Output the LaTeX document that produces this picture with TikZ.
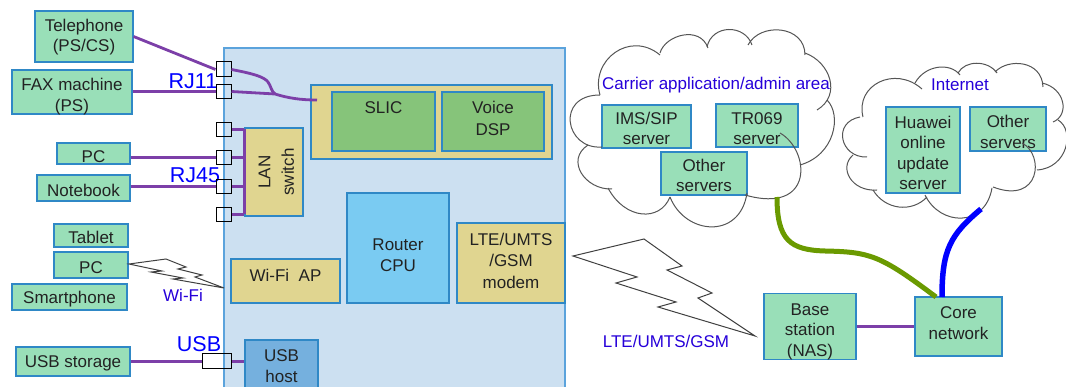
\documentclass[tikz,border=0pt]{standalone}
\usepackage{fontspec}
\setmainfont{Liberation Sans}
\usetikzlibrary{positioning}
\definecolor{devgreen}{HTML}{99DFB8}
\definecolor{devedge}{HTML}{2F88C6}
\definecolor{panelblue}{HTML}{CCE0F1}
\definecolor{paneledge}{HTML}{5BA3DC}
\definecolor{tanbox}{HTML}{E0D590}
\definecolor{slicgreen}{HTML}{86C47A}
\definecolor{cpublue}{HTML}{7ACBF2}
\definecolor{hostblue}{HTML}{75B0DE}
\definecolor{linkpurple}{HTML}{7C3FA8}
\definecolor{linkgreen}{HTML}{6A9A00}
\definecolor{inktext}{HTML}{222222}
\definecolor{cloudline}{HTML}{555555}
\tikzstyle{basebox} = [draw=devedge,line width=1.1pt,inner sep=0pt,align=center,text=inktext,font=\fontsize{17}{20.5}\selectfont]
\tikzstyle{devbox} = [basebox,fill=devgreen]
\tikzstyle{tanned} = [basebox,fill=tanbox]
\tikzstyle{portbox} = [draw=black,line width=1pt,inner sep=0pt]
\tikzstyle{link} = [linkpurple,line width=2.8pt]
\tikzstyle{bigtag} = [blue,inner sep=0pt,font=\fontsize{21.5}{24}\selectfont]
\tikzstyle{smalltag} = [blue!85!red,inner sep=0pt,font=\fontsize{17}{20}\selectfont]
\tikzstyle{cloudarc} = [cloudline,line width=1pt]
\tikzstyle{bolt} = [black!75,line width=1pt,line join=miter]
\begin{document}
\begin{tikzpicture}[x=1pt,y=-1pt]
\clip (0,0) rectangle (1066,387);
\node[basebox,fill=panelblue,draw=paneledge,minimum width=341pt,minimum height=352pt] (router) at (394.5,224) {};
\node[devbox,minimum width=98pt,minimum height=51pt,text depth=2.25pt] (telephone) at (84,36.5) {Telephone\\(PS/CS)};
\node[devbox,minimum width=120pt,minimum height=44pt,text depth=0pt,text height=38.8pt] (fax) at (72,92) {FAX machine\\(PS)};
\node[devbox,minimum width=73pt,minimum height=21pt,text height=18.3pt] (pc) at (93.5,153.5) {PC};
\node[devbox,minimum width=93pt,minimum height=26pt,text height=16.3pt] (notebook) at (83.5,188) {Notebook};
\node[devbox,minimum width=74pt,minimum height=23pt,text height=16.3pt] (tablet) at (91,235.5) {Tablet};
\node[devbox,minimum width=74pt,minimum height=26pt,text height=16.3pt] (pcwifi) at (91,265) {PC};
\node[devbox,minimum width=115pt,minimum height=26pt,text depth=0pt] (smartphone) at (69.5,297) {Smartphone};
\node[devbox,minimum width=114pt,minimum height=29pt,text depth=0pt] (usbdisk) at (73,361.5) {USB storage};
\node[tanned,minimum width=241pt,minimum height=74pt] (voice) at (431.5,122) {};
\node[basebox,fill=slicgreen,minimum width=103pt,minimum height=59pt,text depth=27pt] (slic) at (383.5,121.5) {SLIC};
\node[basebox,fill=slicgreen,minimum width=102pt,minimum height=59pt,text depth=6pt] (dsp) at (493,121.5) {Voice\\[1pt]DSP};
\node[tanned,rotate=90,minimum width=88pt,minimum height=58pt,text height=39.8pt] (lan) at (274,172) {LAN\\[3pt]switch};
\node[basebox,fill=cpublue,minimum width=102pt,minimum height=110pt,text height=46.8pt] (cpu) at (398,248) {Router\\CPU};
\node[tanned,minimum width=109pt,minimum height=44pt,text depth=12pt] (wifiap) at (285.5,281) {Wi-Fi\ \ AP};
\node[tanned,minimum width=108pt,minimum height=80pt,text depth=5pt] (modem) at (511,263) {LTE/UMTS\\[1pt]/GSM\\[1pt]modem};
\node[basebox,fill=hostblue,minimum width=73pt,minimum height=52pt] (usbhost) at (281.5,366) {USB\\host};
\node[bigtag] (tagrjone) at (193,81) {RJ11};
\node[bigtag] (tagrjfour) at (195,175) {RJ45};
\node[bigtag] (tagusb) at (199,344) {USB};
\node[smalltag] (tagwifi) at (183,295) {Wi-Fi};
\node[smalltag] (taglte) at (666,341) {LTE/UMTS/GSM};
\node[portbox,minimum width=15pt,minimum height=15pt] (portA) at (223.5,69.5) {};
\node[portbox,minimum width=15pt,minimum height=14pt] (portB) at (223.5,91.5) {};
\node[portbox,minimum width=15pt,minimum height=14pt] (portC) at (223.5,129.5) {};
\node[portbox,minimum width=15pt,minimum height=14pt] (portD) at (223.5,157.5) {};
\node[portbox,minimum width=15pt,minimum height=14pt] (portE) at (223.5,186.5) {};
\node[portbox,minimum width=15pt,minimum height=14pt] (portF) at (223.5,214.5) {};
\node[portbox,minimum width=29pt,minimum height=15pt] (portusb) at (217,361.5) {};
\coordinate (voicein) at (317,100);
\coordinate (joinvoice) at (275,94);
\draw[link] (telephone.east) -- (portA.west);
\draw[link] (portB.west -| fax.east) -- (portB.west);
\draw[link] (portD.west -| pc.east) -- (portD.west);
\draw[link] (portE.west -| notebook.east) -- (portE.west);
\draw[link] (portusb.west -| usbdisk.east) -- (portusb.west);
\draw[link] (portusb.east) -- (usbhost.west |- portusb.east);
\draw[link] (portA.east) .. controls (255,74) and (264,77) .. (268,82) .. controls (271,86) and (271,91) .. (joinvoice);
\draw[link] (portB.east) -- (joinvoice) .. controls (288,98) and (300,100) .. (voicein);
\foreach \portname in {portC,portD,portE,portF}
  \draw[link] (\portname.east) -- (\portname.east -| lan.north);
\draw[link] (portC.east -| lan.north) -- (portF.east -| lan.north);
\draw[bolt] (129,264) -- (166,259) -- (186,267) -- (178,269) -- (202,275) -- (195,277) -- (224,288) -- (173,279) -- (183,278) -- (151,272) -- (162,271) -- cycle;
\draw[bolt] (573,256) -- (644,239) -- (682,266) -- (667,270) -- (712,293) -- (698,298) -- (755,336) -- (658,307) -- (676,302) -- (616,283) -- (637,277) -- cycle;
\node[devbox,minimum width=89pt,minimum height=43pt,text height=36.8pt] (imssip) at (646.5,126.5) {IMS/SIP\\server};
\node[devbox,minimum width=82pt,minimum height=43pt,text height=38.8pt] (tr069) at (757,125.5) {TR069\\server};
\node[devbox,minimum width=86pt,minimum height=43pt,text height=36.8pt] (othercarrier) at (704,173.5) {Other\\servers};
\node[devbox,minimum width=74pt,minimum height=86pt,text height=79.8pt] (huawei) at (923,150) {Huawei\\online\\update\\server};
\node[devbox,minimum width=76pt,minimum height=44pt,text height=38.8pt] (othernet) at (1008,129) {Other\\servers};
\node[devbox,minimum width=92pt,minimum height=66pt,text depth=0pt,text height=59.3pt] (base) at (810,326.5) {Base\\station\\(NAS)};
\node[devbox,minimum width=87pt,minimum height=59pt,text depth=7pt] (core) at (958.5,326.5) {Core\\network};
\draw[cloudarc] (600,95) .. controls (590,60) and (630,30) .. (660,55);
\draw[cloudarc] (660,53) .. controls (665,35) and (700,25) .. (708,48);
\draw[cloudarc] (707,47) .. controls (712,24) and (745,24) .. (752,45);
\draw[cloudarc] (748,45) .. controls (760,22) and (805,25) .. (805,55);
\draw[cloudarc] (805,53) .. controls (830,62) and (842,95) .. (817,110);
\draw[cloudarc] (827,100) .. controls (842,115) and (835,155) .. (800,165);
\draw[cloudarc] (780,133) .. controls (810,150) and (815,215) .. (745,195);
\draw[cloudarc] (747,193) .. controls (740,240) and (685,235) .. (670,197);
\draw[cloudarc] (670,197) .. controls (660,222) and (625,220) .. (608,188);
\draw[cloudarc] (612,189) .. controls (585,190) and (565,160) .. (588,145);
\draw[cloudarc] (602,147) .. controls (565,150) and (555,95) .. (600,95);
\draw[cloudarc] (863,117) .. controls (855,85) and (895,65) .. (922,89);
\draw[cloudarc] (915,83) .. controls (925,65) and (950,62) .. (960,75);
\draw[cloudarc] (958,73) .. controls (965,60) and (988,60) .. (997,73);
\draw[cloudarc] (995,72) .. controls (1008,58) and (1042,60) .. (1043,87);
\draw[cloudarc] (1042,83) .. controls (1065,88) and (1070,115) .. (1053,122);
\draw[cloudarc] (1058,120) .. controls (1075,130) and (1068,168) .. (1037,170);
\draw[cloudarc] (1022,143) .. controls (1045,155) and (1040,205) .. (993,187);
\draw[cloudarc] (992,188) .. controls (985,228) and (940,226) .. (925,195);
\draw[cloudarc] (927,197) .. controls (912,213) and (885,210) .. (873,190);
\draw[cloudarc] (877,190) .. controls (852,192) and (838,168) .. (853,155);
\draw[cloudarc] (867,157) .. controls (840,158) and (832,122) .. (860,117);
\node[smalltag] (tagcarrier) at (716,85) {Carrier application/admin area};
\node[smalltag] (taginternet) at (960,85) {Internet};
\coordinate (carrierout) at (777,197);
\coordinate (internetout) at (981,209);
\coordinate (coregreen) at (936,297);
\coordinate (coreblue) at (942,297);
\draw[link] (base.east) -- (base.east -| core.west);
\draw[linkgreen,line width=5pt] (carrierout) .. controls (777,240) and (790,250) .. (825,251) .. controls (870,252) and (880,255) .. (coregreen);
\draw[blue,line width=5.5pt] (internetout) .. controls (950,235) and (942,250) .. (coreblue);
\end{tikzpicture}
\end{document}
